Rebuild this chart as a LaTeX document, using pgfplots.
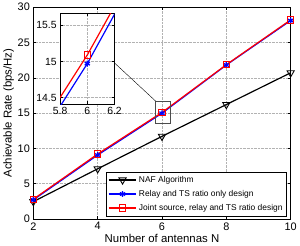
\documentclass[border=0pt]{standalone}
\usepackage{fontspec}
\setmainfont{Liberation Sans}
\usepackage{pgfplots}
\pgfplotsset{compat=1.18}
\begin{document}
\begin{tikzpicture}
\pgfplotsset{every axis/.append style={/pgf/number format/assume math mode=true}}
\begin{axis}[name=main, at={(0,0)}, anchor=south west,
  scale only axis, width=260pt, height=214pt,
  xmin=2, xmax=10, ymin=0, ymax=30,
  xtick={2,4,6,8,10}, ytick={0,5,...,30},
  tick align=inside, major tick length=3pt,
  tick style={black, thin},
  ticklabel style={font=\fontsize{11}{12}\selectfont},
  grid=major, grid style={densely dotted, gray!60},
  axis line style={black, thin},
  xlabel={Number of antennas N}, ylabel={Achievable Rate (bps/Hz)},
  label style={font=\fontsize{11.5}{13}\selectfont},
  xlabel style={yshift=3pt}, ylabel style={yshift=-3pt},
  legend style={font=\fontsize{8.5}{10}\selectfont, at={(1,0)}, xshift=-4pt, yshift=3pt, anchor=south east, draw=black, thin, inner sep=2pt, row sep=2.5pt,
    /tikz/every even column/.append style={column sep=1pt}},
  legend cell align=left,
  legend image code/.code={\draw[mark repeat=2,mark phase=2] plot coordinates {(0pt,0pt) (14pt,0pt) (28pt,0pt)};},
]
\addplot[black, line width=1.2pt, mark=triangle, mark options={rotate=180, solid, fill=white, line width=0.9pt}, mark size=4.2pt]
  coordinates {(2,2.45) (4,7.1) (6,11.7) (8,16.2) (10,20.7)};
\addlegendentry{NAF Algorithm}
\addplot[blue, line width=1.2pt, mark=asterisk, mark options={line width=1.3pt}, mark size=3pt]
  coordinates {(2,2.7) (4,9.05) (6,14.97) (8,21.8) (10,28.1)};
\addlegendentry{Relay and TS ratio only design}
\addplot[red, line width=1.2pt, mark=square, mark options={line width=1pt}, mark size=3.2pt]
  coordinates {(2,2.8) (4,9.2) (6,15.09) (8,21.85) (10,28.2)};
\addlegendentry{Joint source, relay and TS ratio design}
\draw[black!70, thin] (axis cs:5.8,13.6) rectangle (axis cs:6.25,16.7);
\draw[black, thin] (axis cs:5.8,16.7) -- (axis cs:4.523,22.1);
\end{axis}
\begin{axis}[at={(27pt,116pt)}, anchor=south west,
  scale only axis, width=55pt, height=92pt,
  xmin=5.8, xmax=6.2, ymin=14.41, ymax=15.67,
  xtick={5.8,6,6.2}, ytick={14.5,15,15.5},
  tick align=inside, major tick length=3pt,
  tick style={black, thin},
  ticklabel style={font=\fontsize{10.5}{12}\selectfont},
  grid=major, grid style={densely dotted, gray!60},
  axis line style={black, thin},
  axis background/.style={fill=white},
  clip=true,
]
\addplot[blue, line width=1.2pt, mark=asterisk, mark options={line width=1.3pt}, mark size=3pt]
  coordinates {(4,9.05) (6,14.97) (8,21.8)};
\addplot[red, line width=1.2pt, mark=square, mark options={line width=1pt}, mark size=3.2pt]
  coordinates {(4,9.2) (6,15.09) (8,21.85)};
\end{axis}
\end{tikzpicture}
\end{document}
